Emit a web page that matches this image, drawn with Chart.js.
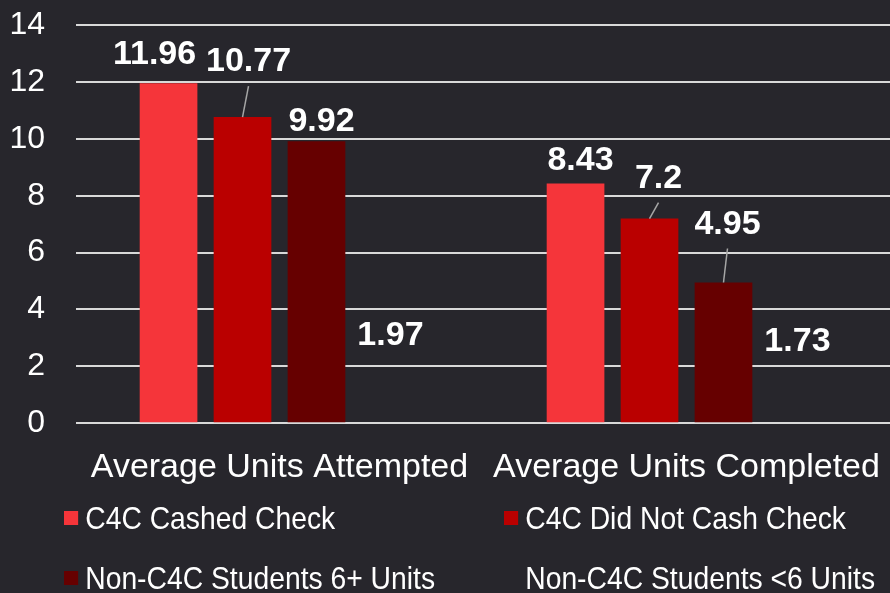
<!DOCTYPE html>
<html>
<head>
<meta charset="utf-8">
<script src="https://cdn.jsdelivr.net/npm/chart.js@4.4.0/dist/chart.umd.min.js"></script>
<style>
  html, body { margin: 0; padding: 0; background: #27262c; }
  #wrap { position: relative; width: 890px; height: 593px; overflow: hidden; background: #27262c; }
  #myChart { position: absolute; left: 0; top: -25px; }
  #legend { position: absolute; left: 0; top: 495px; width: 890px; height: 98px;
    font-family: "Liberation Sans", Arial, sans-serif; font-size: 32px; color: #ffffff; }
  .item { position: absolute; display: flex; align-items: center; white-space: nowrap; height: 36px;
    transform: scaleX(0.884); transform-origin: left center; }
  .sw { width: 16px; height: 14px; margin-right: 8px; }
</style>
</head>
<body>
<div id="wrap">
  <canvas id="myChart" width="890" height="535"></canvas>
  <div id="legend"></div>
</div>
<script>
const categories = ['Average Units Attempted', 'Average Units Completed'];
const seriesNames = ['C4C Cashed Check', 'C4C Did Not Cash Check', 'Non-C4C Students 6+ Units', 'Non-C4C Students <6 Units'];
const cashedCheck = [11.96, 8.43];
const didNotCash = [10.77, 7.2];
const nonC4C6Plus = [9.92, 4.95];
const nonC4CUnder6 = [1.97, 1.73];
const yTicks = [0, 2, 4, 6, 8, 10, 12, 14];

const seriesValues = [cashedCheck, didNotCash, nonC4C6Plus, nonC4CUnder6];
const seriesColors = ['#f5353a', '#ba0000', '#660000', 'rgba(0,0,0,0)'];

// label offsets from the bar top: [dx, dy, leader line]
const labelOffsets = [
  [[-14, -29, 0], [5, -23, 0]],
  [[6, -55, 1], [9, -40, 1]],
  [[5, -20, 0], [4, -58, 1]],
  [[0, -32, 0], [0, -32, 0]]
];

const valueLabels = {
  id: 'valueLabels',
  afterDatasetsDraw(chart) {
    const ctx = chart.ctx;
    ctx.save();
    ctx.font = 'bold 34px "Liberation Sans", Arial, sans-serif';
    ctx.fillStyle = '#ffffff';
    ctx.textAlign = 'center';
    ctx.textBaseline = 'middle';
    chart.data.datasets.forEach((ds, i) => {
      const meta = chart.getDatasetMeta(i);
      meta.data.forEach((bar, j) => {
        const off = labelOffsets[i][j];
        const tx = bar.x + off[0];
        const ty = bar.y + off[1];
        if (off[2]) {
          ctx.strokeStyle = '#a6a6a6';
          ctx.lineWidth = 1.5;
          ctx.beginPath();
          ctx.moveTo(tx, ty + 24);
          ctx.lineTo(bar.x, bar.y);
          ctx.stroke();
        }
        ctx.fillText(String(ds.data[j]), tx, ty);
      });
    });
    ctx.restore();
  }
};

const ctx = document.getElementById('myChart').getContext('2d');
const chart = new Chart(ctx, {
  type: 'bar',
  data: {
    labels: categories,
    datasets: seriesNames.map((name, i) => ({
      label: name,
      data: seriesValues[i],
      backgroundColor: seriesColors[i],
      borderWidth: 0,
      categoryPercentage: 0.727,
      barPercentage: 0.78
    }))
  },
  options: {
    responsive: false,
    animation: false,
    devicePixelRatio: 1,
    layout: { padding: { left: 10, top: 12, right: 0, bottom: 6 } },
    plugins: {
      legend: { display: false },
      tooltip: { enabled: false }
    },
    scales: {
      x: {
        grid: { display: false },
        border: { display: false },
        afterFit: (axis) => { axis.paddingLeft = 0; axis.paddingRight = 0; },
        ticks: {
          color: '#ffffff',
          font: { family: '"Liberation Sans", Arial, sans-serif', size: 34 },
          padding: 16,
          maxRotation: 0
        }
      },
      y: {
        min: 0,
        max: 14,
        afterBuildTicks: (axis) => { axis.ticks = yTicks.map(v => ({ value: v })); },
        afterFit: (axis) => { axis.width = 66; },
        grid: { color: '#d9d9d9', lineWidth: 2, drawTicks: false },
        border: { display: false },
        ticks: {
          color: '#ffffff',
          font: { family: '"Liberation Sans", Arial, sans-serif', size: 32 },
          padding: 31
        }
      }
    }
  },
  plugins: [valueLabels]
});

// legend in two columns, built from the datasets
const legendBox = document.getElementById('legend');
const legendPos = [[64, 5], [504, 5], [64, 65], [504, 65]];
seriesNames.forEach((name, i) => {
  const item = document.createElement('div');
  item.className = 'item';
  item.style.left = legendPos[i][0] + 'px';
  item.style.top = legendPos[i][1] + 'px';
  const sw = document.createElement('span');
  sw.className = 'sw';
  sw.style.background = seriesColors[i];
  const txt = document.createElement('span');
  txt.textContent = name;
  item.appendChild(sw);
  item.appendChild(txt);
  legendBox.appendChild(item);
});
</script>
</body>
</html>
